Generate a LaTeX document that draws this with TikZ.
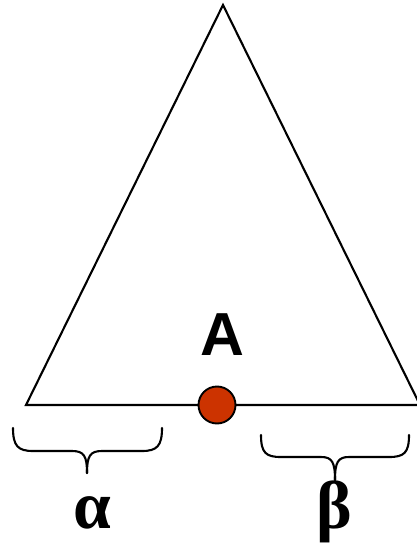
\documentclass[tikz,border=0pt]{standalone}
\usepackage{fontspec}
\usepackage{tikz}
\usetikzlibrary{positioning,calc}
\newfontfamily\headfont{Liberation Sans}
\newfontfamily\greekfont{Liberation Serif}
\definecolor{Rust}{HTML}{CC3300}

\begin{document}
\begin{tikzpicture}[x=1bp,y=-1bp,
    side/.style={line width=2.1bp,draw=black,line join=miter},
    dot/.style={circle,draw=black,line width=1.9bp,fill=Rust,minimum size=37bp,inner sep=0pt},
    ptlabel/.style={font=\headfont\bfseries\fontsize{61}{61}\selectfont,inner sep=0pt},
    glabel/.style={font=\greekfont\bfseries\fontsize{68}{68}\selectfont,inner sep=0pt},
    brc/.style={line width=2.1bp,line cap=round,line join=round}]
    \useasboundingbox (0,0) rectangle (416,545);
    \coordinate (top) at (223,5);
    \coordinate (bl) at (26,405);
    \coordinate (br) at (420,405);
    \draw[side] (bl) -- (top) -- (br) -- cycle;
    \node[dot] (pA) at (217,405) {};
    \node[ptlabel] (nameA) at (222,335) {A};
    \node[glabel] (alpha) at (92,513) {α};
    \node[glabel] (beta) at (334,512) {β};
    % braces
    \draw[brc] (13,428) .. controls (13,446) and (18,451) .. (33,451) -- (72,451)
      .. controls (84,451) and (87,456) .. (87,473);
    \draw[brc] (87,473) .. controls (87,456) and (90,451) .. (102,451) -- (142,451)
      .. controls (157,451) and (162,446) .. (162,428);
    \draw[brc] (261,435) .. controls (261,453) and (266,457) .. (281,457) -- (321,457)
      .. controls (332,457) and (335,462) .. (335,480);
    \draw[brc] (335,480) .. controls (335,462) and (338,457) .. (349,457) -- (389,457)
      .. controls (404,457) and (409,453) .. (409,435);
\end{tikzpicture}
\end{document}
